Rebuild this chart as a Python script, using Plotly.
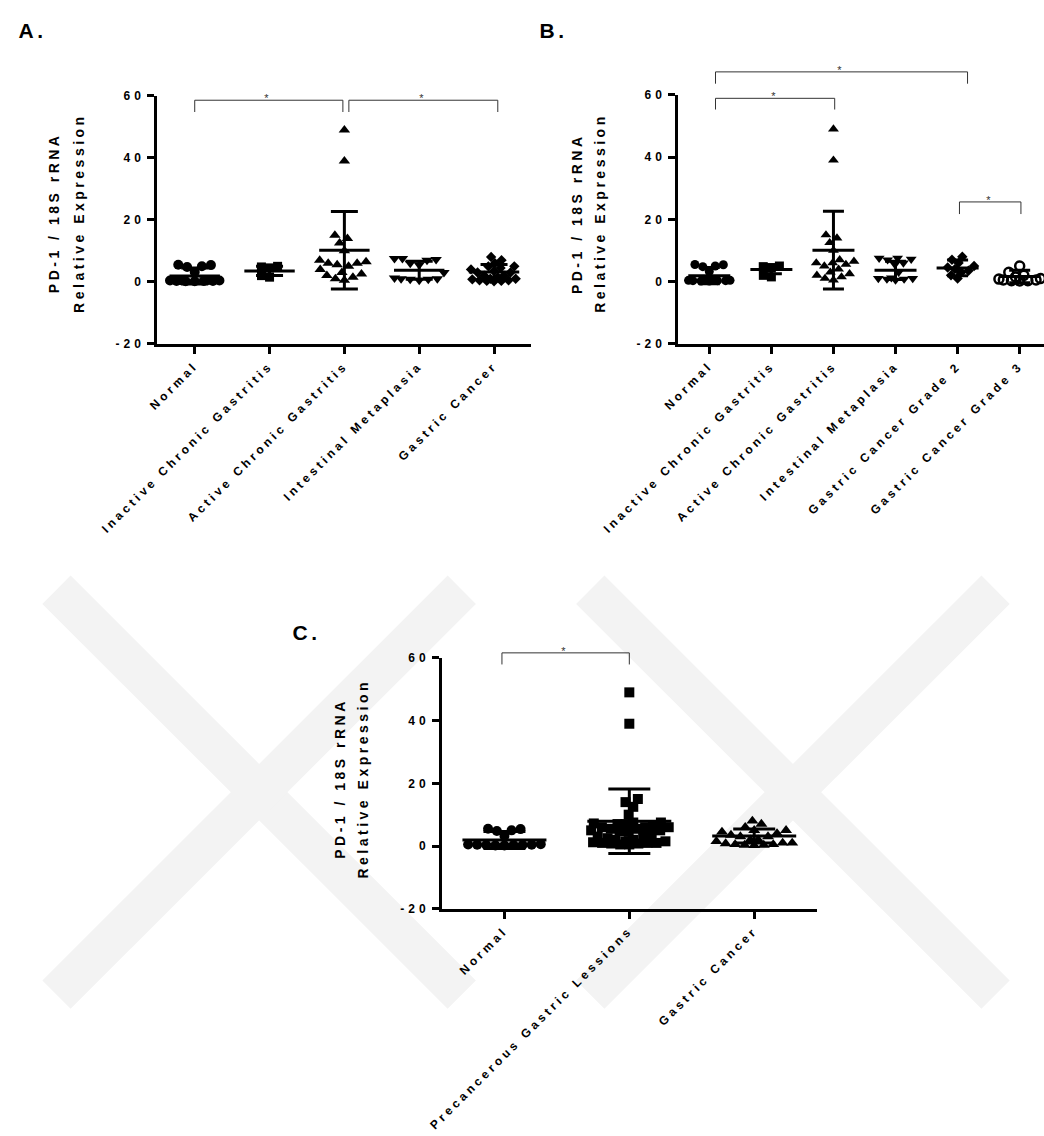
import numpy as np
import plotly.graph_objects as go

W, H = 1044, 1136

# ---------------- data ----------------
cats_A = ["Normal", "Inactive Chronic Gastritis", "Active Chronic Gastritis",
          "Intestinal Metaplasia", "Gastric Cancer"]
cats_B = ["Normal", "Inactive Chronic Gastritis", "Active Chronic Gastritis",
          "Intestinal Metaplasia", "Gastric Cancer Grade 2", "Gastric Cancer Grade 3"]
cats_C = ["Normal", "Precancerous Gastric Lessions", "Gastric Cancer"]

normal = [5.5, 4.8, 3.2, 5.0, 5.4, 0.2, 0.3, 0.4, 0.2, 0.5, 0.3, 0.6, 0.4, 0.3]
inactive = [5.0, 4.8, 4.5, 2.0, 1.5]
active = [49, 39, 15, 14, 12.5, 10, 7, 6.5, 6, 6, 5.5, 5, 4, 3, 2.5, 2, 1.5, 1, 0.5]
metaplasia = [7.5, 7.5, 7.2, 7.0, 6.0, 5.5, 3.0, 1.2, 1.0, 0.8, 0.5, 0.8, 1.0]
grade2 = [8, 7, 6, 5, 4.5, 4, 3.5, 3, 2, 1]
grade3 = [5, 3, 2, 1.5, 1, 0.8, 0.5, 0.5, 0.3, 0.3, 0.2]
gastric = grade2 + grade3
precancer = inactive + active + metaplasia

mean_A = [1.9, 3.5, 10.2, 3.7, 3.2]
sd_A = [2.6, 1.5, 12.5, 2.9, 2.4]
mean_B = [1.9, 3.9, 10.1, 3.6, 4.4, 1.6]
sd_B = [2.6, 1.4, 12.5, 2.9, 2.5, 2.0]
mean_C = [1.9, 7.9, 3.2]
sd_C = [2.7, 10.3, 2.2]

y_ticks = [-20, 0, 20, 40, 60]
y_range = [-20, 60]

# significance brackets: (x start, x end, top value, leg end value)
brackets_A = [(0.0, 1.98, 58.6, 54.8), (2.06, 4.05, 58.6, 54.8)]
brackets_B = [(0.1, 4.16, 67.4, 63.6), (0.1, 2.02, 58.9, 55.3), (4.03, 5.02, 25.6, 21.7)]
brackets_C = [(-0.02, 1.0, 61.6, 57.9)]

FONT = "Liberation Sans, Arial, sans-serif"


def swarm_offsets(values, px_per_unit, px_per_cat, diam, max_half_px):
    vals = np.asarray(values, float)
    ys = vals * px_per_unit
    order = np.argsort(ys, kind="stable")
    placed = []
    offs = np.zeros(len(vals))
    for i in order:
        y = ys[i]
        cands = [0.0]
        for (qx, qy) in placed:
            dy = abs(y - qy)
            if dy < diam:
                dx = np.sqrt(diam ** 2 - dy ** 2)
                cands += [qx + dx + 1e-6, qx - dx - 1e-6]
        cands = sorted(cands, key=lambda c: (abs(c), c))
        chosen = None
        for c in cands:
            if abs(c) > max_half_px:
                continue
            if all((c - qx) ** 2 + (y - qy) ** 2 >= diam ** 2 - 1e-3 for qx, qy in placed):
                chosen = c
                break
        if chosen is None:
            grid = np.linspace(-max_half_px, max_half_px, 41)

            def mind(c):
                return min((c - qx) ** 2 + (y - qy) ** 2 for qx, qy in placed)
            chosen = max(grid, key=lambda c: (mind(c), -abs(c)))
        placed.append((chosen, y))
        offs[i] = chosen
    return offs / px_per_cat


fig = go.Figure()

panels = [
    dict(ax="", cats=cats_A, groups=[normal, inactive, active, metaplasia, gastric],
         symbols=["circle", "square", "triangle-up", "triangle-down", "diamond"],
         sizes=[10, 9, 10, 10, 8], means=mean_A, sds=sd_A,
         ppu=251 / 80, ppc=75.7, half=25, mean_size=36, cap=13.5, brackets=brackets_A,
         xdom=[147 / W, 525.5 / W], ydom=[1 - 341 / H, 1 - 90 / H],
         xr=[-0.5, 4.5]),
    dict(ax="2", cats=cats_B, groups=[normal, inactive, active, metaplasia, grade2, grade3],
         symbols=["circle", "square", "triangle-up", "triangle-down", "diamond", "circle-open"],
         sizes=[9, 9, 9.5, 9.5, 8, 9], means=mean_B, sds=sd_B,
         ppu=252 / 80, ppc=62.8, half=21, mean_size=30, cap=10.5, brackets=brackets_B,
         xdom=[674 / W, 1.0], ydom=[1 - 341 / H, 1 - 89 / H],
         xr=[-0.5, -0.5 + 370 / 62.8]),
    dict(ax="3", cats=cats_C, groups=[normal, precancer, gastric],
         symbols=["circle", "square", "triangle-up"],
         sizes=[10, 10, 10.5], means=mean_C, sds=sd_C,
         ppu=254 / 80, ppc=126.5, half=40, mean_size=60, cap=21, brackets=brackets_C,
         xdom=[435 / W, 814 / W], ydom=[1 - 913 / H, 1 - 659 / H],
         xr=[-0.5, 2.5]),
]

shapes = []
annotations = []


def yfrac(v):
    return (v - y_range[0]) / (y_range[1] - y_range[0])


for p in panels:
    xa = "x" + p["ax"]
    ya = "y" + p["ax"]
    for i, vals in enumerate(p["groups"]):
        offs = swarm_offsets(vals, p["ppu"], p["ppc"], p["sizes"][i] * 0.92, p["half"])
        sym = p["symbols"][i]
        marker = dict(symbol=sym, size=p["sizes"][i], color="black",
                      line=dict(width=0, color="black"))
        if sym.endswith("open"):
            marker["line"] = dict(width=2.5, color="black")
        fig.add_trace(go.Scatter(
            x=[i + o for o in offs], y=vals, mode="markers", marker=marker,
            xaxis=xa, yaxis=ya, showlegend=False, cliponaxis=False, hoverinfo="y"))
    fig.add_trace(go.Scatter(
        x=list(range(len(p["cats"]))), y=p["means"], mode="markers",
        marker=dict(symbol="line-ew", size=p["mean_size"], color="black",
                    line=dict(width=3, color="black")),
        error_y=dict(type="data", array=p["sds"], visible=True, thickness=3,
                     width=p["cap"], color="black"),
        xaxis=xa, yaxis=ya, showlegend=False, cliponaxis=False, hoverinfo="y"))

    # brackets
    ydref = ya + " domain"
    for (x0, x1, top, leg) in p["brackets"]:
        line = dict(color="#333333", width=1)
        shapes.append(dict(type="line", xref=xa, yref=ydref, x0=x0, x1=x0,
                           y0=yfrac(leg), y1=yfrac(top), line=line, layer="above"))
        shapes.append(dict(type="line", xref=xa, yref=ydref, x0=x0, x1=x1,
                           y0=yfrac(top), y1=yfrac(top), line=line, layer="above"))
        shapes.append(dict(type="line", xref=xa, yref=ydref, x0=x1, x1=x1,
                           y0=yfrac(leg), y1=yfrac(top), line=line, layer="above"))
        annotations.append(dict(xref=xa, yref=ydref, x=(x0 + x1) / 2, y=yfrac(top),
                                text="*", showarrow=False, xanchor="center",
                                yanchor="middle", yshift=2,
                                font=dict(family=FONT, size=11, color="#333333")))

    axis_common = dict(showline=True, linewidth=3, linecolor="black", ticks="outside",
                       ticklen=7, tickwidth=2.5, tickcolor="black", showgrid=False,
                       zeroline=False, fixedrange=True,
                       tickfont=dict(family=FONT, size=12, color="black", weight="bold"))
    xkey = "xaxis" + p["ax"]
    ykey = "yaxis" + p["ax"]
    fig.update_layout(**{
        xkey: dict(axis_common, domain=p["xdom"], range=p["xr"], type="linear",
                   tickmode="array", tickvals=list(range(len(p["cats"]))),
                   ticktext=p["cats"], tickangle=-45, anchor=ya),
        ykey: dict(axis_common, domain=p["ydom"], range=y_range, tickmode="array",
                   tickvals=y_ticks, ticktext=[str(t) for t in y_ticks], anchor=xa),
    })

# y-axis titles (two lines each)
title_pos = [
    (43, 68, 209),     # panel A
    (572, 595, 209),   # panel B
    (332, 355, 781),   # panel C
]
for (x1, x2, yc) in title_pos:
    for xx, txt in ((x1, "PD-1 / 18S rRNA"), (x2, "Relative Expression")):
        annotations.append(dict(xref="paper", yref="paper", x=xx / W, y=1 - yc / H,
                                text=txt, showarrow=False, textangle=-90,
                                xanchor="center", yanchor="middle",
                                font=dict(family=FONT, size=14, color="black",
                                          weight="bold")))

# panel letters
for (lx, ly, txt) in ((8, 10, "A."), (535, 10, "B."), (285, 620, "C.")):
    annotations.append(dict(xref="paper", yref="paper", x=lx / W, y=1 - ly / H,
                            text=txt, showarrow=False, xanchor="left", yanchor="top",
                            font=dict(family=FONT, size=21, color="black",
                                      weight="bold")))

# light watermark strokes in the background
wm = [(45, 590, 455, 1000), (455, 590, 45, 1000),
      (585, 590, 995, 1000), (995, 590, 585, 1000)]
for (ax0, ay0, ax1, ay1) in wm:
    shapes.append(dict(type="line", xref="paper", yref="paper",
                       x0=ax0 / W, y0=1 - ay0 / H, x1=ax1 / W, y1=1 - ay1 / H,
                       line=dict(color="#f3f3f3", width=40), layer="below"))

fig.update_layout(width=W, height=H, margin=dict(l=0, r=0, t=0, b=0),
                  paper_bgcolor="white", plot_bgcolor="rgba(0,0,0,0)",
                  showlegend=False, shapes=shapes, annotations=annotations)

post_js = """
document.body.style.margin = '0';
document.body.style.padding = '0';
var gd = document.getElementById('{plot_id}');
function sp(sel, v){ gd.querySelectorAll(sel).forEach(function(t){ t.style.letterSpacing = v; }); }
sp('.xaxislayer-above text', '3.5px');
sp('.yaxislayer-above text', '4px');
sp('.annotation-text', '3.5px');
"""

fig.write_html("out.html", include_plotlyjs=True, post_script=post_js,
               config={"displayModeBar": False})
